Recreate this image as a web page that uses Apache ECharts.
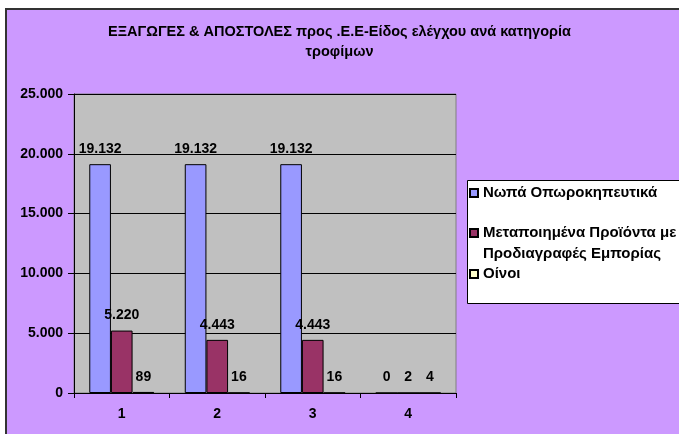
<!DOCTYPE html>
<html>
<head>
<meta charset="utf-8">
<script src="https://cdn.jsdelivr.net/npm/echarts@6/dist/echarts.min.js"></script>
<style>
html,body{margin:0;padding:0;background:#fff;overflow:hidden;}
#bg{position:absolute;left:5px;top:8px;width:800px;height:600px;background:#CC99FF;border-top:2px solid #333;border-left:2px solid #333;box-sizing:border-box;}
#chart{position:absolute;left:0;top:0;width:679px;height:434px;}
</style>
</head>
<body>
<div id="bg"></div>
<div id="chart"></div>
<script>
const categories = ['1', '2', '3', '4'];
const seriesNames = ['Νωπά Οπωροκηπευτικά', 'Μεταποιημένα Προϊόντα με\nΠροδιαγραφές Εμπορίας', 'Οίνοι'];
const freshValues = [19132, 19132, 19132, 0];
const processedValues = [5220, 4443, 4443, 2];
const wineValues = [89, 16, 16, 4];
const titleText = 'ΕΞΑΓΩΓΕΣ & ΑΠΟΣΤΟΛΕΣ προς .Ε.Ε-Είδος ελέγχου ανά κατηγορία\nτροφίμων';

const FONT = "'Liberation Sans', Arial, sans-serif";
function fmt(v) {
  return String(Math.round(v)).replace(/\B(?=(\d{3})+(?!\d))/g, '.');
}
const labelStyle = {
  show: true, position: 'top', distance: 8,
  color: '#000', fontFamily: FONT, fontWeight: 'bold', fontSize: 14,
  formatter: p => fmt(p.value)
};
function mkSeries(name, data, color) {
  return {
    name, type: 'bar', data,
    barGap: '0%', barCategoryGap: '32%',
    itemStyle: { color, borderColor: '#000', borderWidth: 1 },
    label: labelStyle
  };
}
const legendText = { color: '#000', fontFamily: FONT, fontWeight: 'bold', fontSize: 15, lineHeight: 17 };
const chart = echarts.init(document.getElementById('chart'), null, { renderer: 'canvas' });
chart.setOption({
  backgroundColor: 'transparent',
  animation: false,
  title: {
    text: titleText, left: 'center', top: 22, padding: 0,
    textStyle: { color: '#000', fontFamily: FONT, fontWeight: 'bold', fontSize: 14.5, lineHeight: 20 }
  },
  graphic: [{
    type: 'rect', z: -1,
    shape: { x: 467.5, y: 180.5, width: 220, height: 123 },
    style: { fill: '#fff', stroke: '#000', lineWidth: 1 }
  }],
  legend: [
    { data: [seriesNames[0]], left: 469, top: 184.5, padding: 0, itemWidth: 8, itemHeight: 8, itemGap: 0,
      icon: 'rect', textStyle: legendText, selectedMode: false },
    { data: [seriesNames[1]], left: 469, top: 201.5, padding: 0, itemWidth: 8, itemHeight: 8, itemGap: 0,
      icon: 'rect', textStyle: Object.assign({}, legendText, { lineHeight: 21 }), selectedMode: false,
      formatter: n => '\n' + n },
    { data: [seriesNames[2]], left: 469, top: 265.5, padding: 0, itemWidth: 8, itemHeight: 8, itemGap: 0,
      icon: 'rect', textStyle: legendText, selectedMode: false }
  ],
  grid: {
    left: 74, right: 223, top: 94, bottom: 41,
    show: true, backgroundColor: '#C0C0C0', borderColor: '#808080', borderWidth: 1
  },
  xAxis: {
    type: 'category', data: categories,
    axisLine: { lineStyle: { color: '#000', width: 1 } },
    axisTick: { show: true, length: 5, lineStyle: { color: '#000' } },
    axisLabel: { margin: 14, color: '#000', fontFamily: FONT, fontWeight: 'bold', fontSize: 14 }
  },
  yAxis: {
    type: 'value', min: 0, max: 25000, interval: 5000,
    axisLine: { show: true, lineStyle: { color: '#000', width: 1 } },
    axisTick: { show: true, length: 6, lineStyle: { color: '#000' } },
    splitLine: { show: true, lineStyle: { color: '#000', width: 1 } },
    axisLabel: { margin: 11, color: '#000', fontFamily: FONT, fontWeight: 'bold', fontSize: 14, formatter: v => fmt(v) }
  },
  series: [
    mkSeries(seriesNames[0], freshValues, '#9999FF'),
    mkSeries(seriesNames[1], processedValues, '#993366'),
    mkSeries(seriesNames[2], wineValues, '#FFFFCC')
  ]
});
</script>
</body>
</html>
